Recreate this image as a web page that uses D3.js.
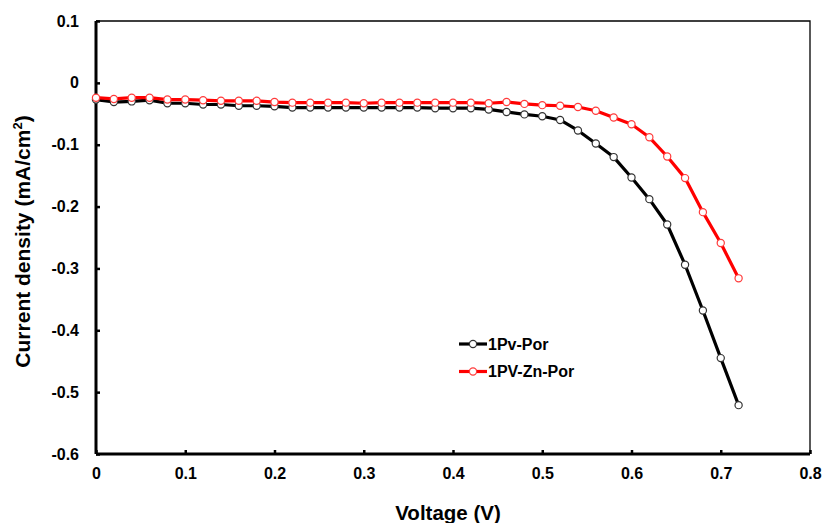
<!DOCTYPE html>
<html>
<head>
<meta charset="utf-8">
<script src="https://cdn.jsdelivr.net/npm/d3@7"></script>
<style>
  body { margin: 0; background: #fff; }
  text { font-family: "Liberation Sans", Arial, sans-serif; font-weight: bold; }
</style>
</head>
<body>
<div id="chart-area"></div>
<script>
// data
let voltage = [0, 0.02, 0.04, 0.06, 0.08, 0.10, 0.12, 0.14, 0.16, 0.18, 0.20, 0.22, 0.24,
  0.26, 0.28, 0.30, 0.32, 0.34, 0.36, 0.38, 0.40, 0.42, 0.44, 0.46, 0.48, 0.50, 0.52,
  0.54, 0.56, 0.58, 0.60, 0.62, 0.64, 0.66, 0.68, 0.70, 0.72];

let pvPor = [-0.027, -0.031, -0.030, -0.028, -0.033, -0.033, -0.035, -0.035, -0.037, -0.037,
  -0.038, -0.040, -0.040, -0.040, -0.040, -0.040, -0.040, -0.040, -0.040, -0.041, -0.041,
  -0.041, -0.043, -0.047, -0.051, -0.054, -0.060, -0.077, -0.098, -0.120, -0.153, -0.188,
  -0.229, -0.294, -0.368, -0.445, -0.521];

let pvZnPor = [-0.024, -0.026, -0.024, -0.024, -0.027, -0.027, -0.028, -0.029, -0.029, -0.029,
  -0.031, -0.032, -0.032, -0.032, -0.032, -0.033, -0.032, -0.032, -0.032, -0.032, -0.032,
  -0.032, -0.033, -0.031, -0.034, -0.036, -0.037, -0.039, -0.045, -0.056, -0.067, -0.088,
  -0.119, -0.154, -0.209, -0.259, -0.316];

let seriesNames = ["1Pv-Por", "1PV-Zn-Por"];
let xTicks = [0, 0.1, 0.2, 0.3, 0.4, 0.5, 0.6, 0.7, 0.8];
let yTicks = [0.1, 0, -0.1, -0.2, -0.3, -0.4, -0.5, -0.6];

// SVG drawing area
let margin = {top: 21, right: 13, bottom: 69, left: 96};
let width = 823 - margin.left - margin.right,
    height = 523 - margin.top - margin.bottom;

let svg = d3.select("#chart-area").append("svg")
    .attr("width", 823)
    .attr("height", 523)
  .append("g")
    .attr("transform", "translate(" + margin.left + "," + margin.top + ")");

// Scales
let x = d3.scaleLinear().domain([0, 0.8]).range([0, width]);
let y = d3.scaleLinear().domain([-0.6, 0.1]).range([height, 0]);

// plain hyphen like the original, "0" without decimals
let fmt = d => d === 0 ? "0" : d3.format(".1f")(d).replace("\u2212", "-");

// thin frame top / right
svg.append("path")
    .attr("d", "M0,0H" + width + "V" + height)
    .attr("fill", "none")
    .attr("stroke", "#000")
    .attr("stroke-width", 1.3);

// Axes
let xAxis = d3.axisBottom(x).tickValues(xTicks).tickSize(-4).tickPadding(14).tickFormat(fmt);
let yAxis = d3.axisLeft(y).tickValues(yTicks).tickSize(-4).tickPadding(17).tickFormat(fmt);

let xAxisGroup = svg.append("g")
    .attr("transform", "translate(0," + height + ")")
    .call(xAxis);
let yAxisGroup = svg.append("g")
    .call(yAxis);

[xAxisGroup, yAxisGroup].forEach(g => {
  g.select(".domain").attr("stroke-width", 3).attr("d",
    g === xAxisGroup ? "M0,0H" + width : "M0,0V" + height);
  g.selectAll(".tick line").attr("stroke-width", 2.5);
  g.selectAll(".tick text").attr("font-size", 16).attr("fill", "#000");
});

// Lines
let line = d3.line()
    .x((d, i) => x(voltage[i]))
    .y(d => y(d));

let series = [
  {name: seriesNames[0], values: pvPor, color: "#000", marker: "#333"},
  {name: seriesNames[1], values: pvZnPor, color: "#ff0000", marker: "#ff3b3b"}
];

series.forEach(s => {
  svg.append("path")
      .datum(s.values)
      .attr("fill", "none")
      .attr("stroke", s.color)
      .attr("stroke-width", 3.2)
      .attr("stroke-linejoin", "round")
      .attr("d", line);

  svg.selectAll(null)
      .data(s.values)
      .enter()
      .append("circle")
      .attr("cx", (d, i) => x(voltage[i]))
      .attr("cy", d => y(d))
      .attr("r", 3.6)
      .attr("fill", "#fff")
      .attr("stroke", s.marker)
      .attr("stroke-width", 1.2);
});

// Legend
let legend = svg.append("g").attr("transform", "translate(" + (459 - margin.left) + "," + (344 - margin.top) + ")");
series.forEach((s, i) => {
  let g = legend.append("g").attr("transform", "translate(0," + (i * 27.5) + ")");
  g.append("line").attr("x1", 0).attr("x2", 28).attr("stroke", s.color).attr("stroke-width", 3.2);
  g.append("circle").attr("cx", 14).attr("r", 3.6).attr("fill", "#fff")
      .attr("stroke", s.marker).attr("stroke-width", 1.2);
  g.append("text").attr("x", 29).attr("y", 5.5).attr("font-size", 16).text(s.name);
});

// Axis titles
svg.append("text")
    .attr("x", width / 2 - 5)
    .attr("y", height + 66)
    .attr("text-anchor", "middle")
    .attr("font-size", 20.5)
    .text("Voltage (V)");

svg.append("text")
    .attr("transform", "translate(" + (-66) + "," + (height / 2 + 4) + ") rotate(-90)")
    .attr("text-anchor", "middle")
    .attr("font-size", 21)
    .html('Current density (mA/cm<tspan dy="-8" font-size="13">2</tspan><tspan dy="8">)</tspan>');
</script>
</body>
</html>
